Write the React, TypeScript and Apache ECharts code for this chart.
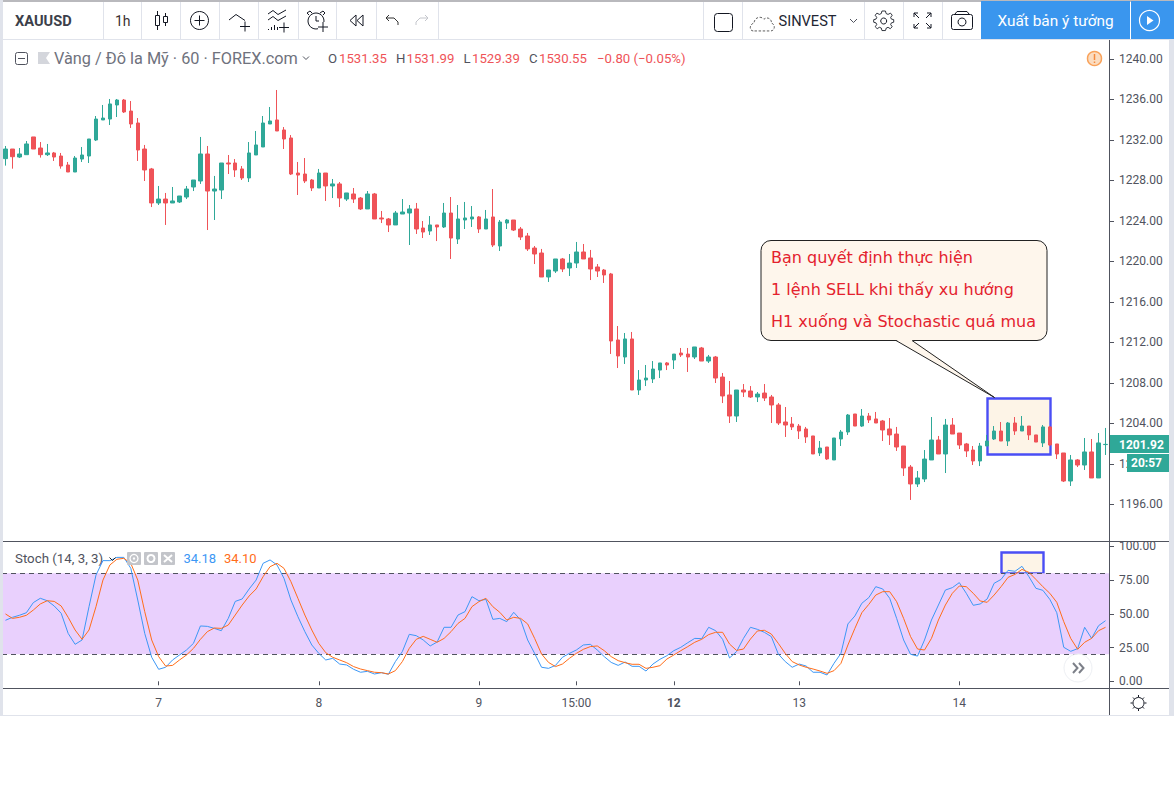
import React, { useEffect, useRef } from "react";
import * as echarts from "echarts";

const opens = [
  1230.14,1231.09,1230.30,1230.53,1232.28,1231.19,1230.53,1230.70,1230.40,1229.51,
  1228.82,1230.10,1230.40,1231.98,1233.96,1234.05,1235.44,1235.93,1234.84,1233.66,
  1231.09,1229.12,1225.76,1226.15,1225.76,1225.86,1226.35,1227.34,1227.93,1230.60,
  1226.94,1227.04,1229.71,1229.71,1229.12,1228.23,1230.50,1231.29,1233.56,1233.96,
  1232.97,1232.18,1228.72,1228.62,1228.03,1227.24,1228.72,1227.44,1227.64,1226.15,
  1226.65,1226.25,1225.17,1226.65,1224.28,1224.18,1223.59,1224.67,1224.77,1225.17,
  1223.29,1222.99,1223.59,1223.39,1224.77,1222.20,1224.08,1224.18,1224.38,1223.19,
  1224.38,1221.51,1223.78,1224.08,1223.19,1222.50,1221.31,1220.82,1218.45,1219.04,
  1220.23,1219.34,1219.83,1220.92,1220.33,1219.44,1219.14,1218.75,1212.23,1210.55,
  1212.33,1207.29,1208.28,1208.38,1209.26,1209.96,1210.25,1210.94,1210.84,1210.55,
  1211.44,1210.15,1210.55,1208.57,1206.80,1204.72,1207.29,1207.19,1206.60,1206.99,
  1206.60,1205.81,1204.13,1203.93,1203.73,1203.44,1202.75,1201.07,1201.66,1200.38,
  1202.45,1203.14,1204.92,1203.73,1204.72,1204.43,1204.23,1203.44,1202.94,1201.76,
  1199.68,1198.01,1198.50,1200.38,1202.35,1200.97,1203.83,1203.04,1201.96,1201.36,
  1200.28,1201.76,1202.45,1203.24,1202.25,1204.03,1203.24,1203.73,1202.85,1202.06,
  1203.64,1201.96,1201.07,1198.30,1200.38,1199.88,1201.17,1198.60,1201.90,
];
const closes = [
  1231.09,1230.33,1230.60,1231.59,1231.09,1230.53,1230.70,1230.30,1229.41,1228.82,
  1230.20,1230.50,1232.08,1234.05,1234.15,1235.54,1235.93,1234.75,1233.56,1230.99,
  1229.02,1225.76,1226.15,1225.76,1225.96,1226.45,1227.14,1228.03,1230.60,1226.94,
  1227.14,1229.71,1229.61,1229.02,1228.23,1230.70,1231.49,1233.66,1233.86,1232.87,
  1232.08,1228.62,1228.52,1227.93,1227.24,1228.72,1227.44,1227.64,1226.25,1226.75,
  1226.15,1225.17,1226.65,1224.18,1224.18,1223.59,1224.77,1224.87,1225.17,1223.19,
  1222.89,1223.59,1223.39,1224.77,1222.30,1224.18,1224.28,1224.38,1223.19,1224.18,
  1221.61,1223.88,1224.08,1223.09,1222.40,1221.22,1220.72,1218.45,1219.14,1220.23,
  1219.24,1219.83,1220.92,1220.23,1219.24,1219.04,1218.65,1212.13,1210.65,1212.33,
  1207.29,1208.28,1208.47,1209.36,1209.96,1209.76,1210.84,1210.75,1210.55,1211.54,
  1210.15,1210.55,1208.47,1206.70,1204.72,1207.29,1207.09,1206.60,1206.89,1206.50,
  1205.81,1204.03,1203.83,1203.64,1203.24,1202.65,1200.97,1201.56,1200.48,1202.55,
  1203.14,1204.82,1203.73,1204.72,1204.33,1204.03,1203.34,1202.85,1201.66,1199.59,
  1198.01,1198.60,1200.47,1202.35,1200.97,1203.83,1202.94,1201.86,1201.27,1200.28,
  1201.76,1202.25,1203.24,1202.25,1204.03,1203.24,1203.73,1202.85,1202.15,1203.64,
  1201.86,1200.97,1198.30,1200.38,1199.88,1201.17,1198.60,1202.06,1201.92,
];
const lows = [
  1229.45,1229.15,1230.20,1230.53,1231.09,1230.24,1230.40,1229.91,1229.15,1228.82,
  1228.82,1229.81,1229.71,1231.88,1233.96,1233.46,1234.25,1234.65,1233.17,1229.91,
  1227.93,1225.36,1225.56,1223.59,1225.76,1225.76,1226.15,1226.94,1227.64,1223.09,
  1224.08,1226.15,1228.62,1228.33,1228.03,1227.83,1230.50,1231.29,1233.56,1232.87,
  1231.09,1228.52,1226.55,1227.73,1226.94,1227.24,1225.96,1226.25,1225.36,1225.96,
  1225.76,1225.07,1225.17,1224.18,1223.78,1222.89,1223.59,1224.67,1221.61,1222.70,
  1222.30,1222.60,1222.00,1223.29,1220.23,1221.71,1223.19,1223.39,1222.80,1223.19,
  1221.41,1221.02,1223.19,1222.99,1222.10,1221.02,1219.73,1218.45,1217.96,1218.85,
  1218.94,1218.55,1219.34,1220.23,1218.15,1218.45,1217.86,1210.85,1209.46,1209.86,
  1207.29,1206.80,1207.68,1207.98,1208.47,1209.26,1209.36,1210.55,1209.07,1210.35,
  1210.15,1209.96,1207.98,1206.00,1204.03,1204.13,1206.60,1206.50,1206.10,1206.20,
  1204.03,1203.83,1202.65,1203.34,1202.45,1202.06,1200.97,1200.77,1200.38,1200.38,
  1201.76,1202.85,1203.73,1203.64,1204.03,1204.03,1202.25,1201.86,1201.27,1198.80,
  1196.43,1197.71,1198.20,1200.38,1200.97,1199.09,1202.94,1201.46,1200.67,1199.88,
  1199.78,1201.76,1202.35,1202.25,1201.76,1202.85,1203.24,1202.35,1202.15,1201.66,
  1201.76,1200.47,1198.20,1197.81,1199.68,1199.39,1198.60,1198.60,1200.87,
];
const highs = [
  1231.39,1231.09,1231.19,1231.88,1232.28,1231.78,1231.59,1230.80,1230.70,1229.81,
  1230.40,1231.29,1232.08,1234.35,1235.44,1236.03,1236.03,1236.03,1235.83,1234.15,
  1231.49,1229.22,1227.44,1226.75,1227.34,1226.45,1227.44,1228.03,1232.28,1231.39,
  1228.43,1229.71,1230.50,1230.10,1229.41,1231.78,1232.87,1234.35,1235.24,1236.92,
  1233.26,1232.47,1229.81,1230.20,1228.13,1229.12,1228.72,1228.13,1227.83,1226.75,
  1227.24,1226.35,1226.94,1226.75,1224.97,1224.28,1224.97,1226.15,1225.56,1225.76,
  1223.98,1224.47,1223.59,1225.76,1226.35,1225.56,1225.86,1225.46,1224.47,1225.07,
  1227.14,1224.08,1224.18,1224.08,1223.39,1222.80,1221.51,1221.22,1219.14,1220.23,
  1220.33,1220.72,1221.91,1221.71,1221.12,1219.73,1219.24,1218.85,1213.61,1212.92,
  1213.02,1209.26,1209.76,1210.15,1209.96,1210.05,1210.84,1211.44,1211.44,1211.54,
  1211.54,1210.75,1210.65,1208.97,1208.18,1207.29,1207.88,1207.68,1207.09,1207.88,
  1206.80,1206.00,1205.61,1204.62,1203.93,1203.64,1202.75,1202.25,1201.66,1202.55,
  1203.34,1204.92,1204.92,1205.41,1205.02,1205.12,1204.33,1204.52,1203.64,1201.76,
  1199.88,1199.29,1201.36,1204.62,1202.75,1204.43,1204.52,1203.04,1202.06,1201.76,
  1202.06,1202.85,1203.73,1204.13,1204.13,1204.62,1204.72,1203.73,1202.85,1203.83,
  1203.73,1201.96,1201.07,1200.87,1200.47,1202.55,1202.45,1203.04,1203.54,
];
const stochK = [
  45.2,47.4,48.9,50.8,58.3,61.5,59.7,55.8,50.4,35.5,
  27.4,30.6,55.3,78.7,89.4,89.4,91.8,91.8,83.7,60.2,
  35.5,17.8,8.9,10.4,15.8,19.5,23.2,28.1,41,40.7,
  39.2,37.5,46.6,59.2,61,68.4,75,87.4,89.9,86.2,
  76.3,60.2,47.9,36.8,26.9,20.7,15.8,17,12.8,12.1,
  8.9,6.7,7.4,5.4,6.4,5.2,14.6,
  22,34.8,33.8,30.6,26.2,29.1,40,40,49.1,51.6,
  62.7,59.7,60.7,45.9,46.6,44.2,51.1,45.4,30.6,20.7,
  10.4,9.6,11.8,17.8,20.7,23.2,26.9,27.4,23.2,18.3,
  14,11.8,14.3,11.1,11.1,7.6,12.8,16.3,19,22.7,
  25.2,28.6,31.8,31.6,40,37.5,31.1,17.3,22,31.8,
  40,38.5,36.3,33.1,20.2,14.6,10.4,
  12.8,11.3,6.7,6.7,4.7,13.3,20.7,42.5,48.4,57.8,
  62,70.1,68.4,61.5,46.6,30.6,20,18.7,30.6,45.4,
  56.5,67.6,69.4,73.1,65.2,56.3,57.3,61,72.6,75.5,
  82.2,81.5,85.2,77.5,68.9,67.4,60.7,50.8,25.2,22.2,
  24.2,40,31.8,41.2,44.9,
];
const stochD = [
  49.9,46.6,47.4,48.9,52.8,57.3,59.7,59.2,55.8,47.4,
  38,31.1,38,55.3,75,86.2,90.4,91.1,87.4,75,
  51.6,30.6,18.3,11.3,11.8,15.8,19.5,24.4,31.1,36.8,
  39.5,39.2,41.7,49.1,56.5,63.2,68.4,77.5,84.9,87.4,
  83.7,73.8,61.5,49.1,38,28.1,21.2,17.8,15.8,13.8,
  10.9,9.1,7.9,6.7,6.4,5.4,7.9,
  14.6,24.4,31.1,33.3,31.1,28.9,31.8,36.8,42.9,46.6,
  55.3,59,61.5,55.3,51.1,45.4,47.4,46.6,42.5,31.8,
  20.2,14,10.9,12.8,17,20.7,23.7,25.7,26.2,22.7,
  18.3,15.3,13.8,12.6,12.6,9.6,10.4,11.6,16.5,19.5,
  22.7,25.7,28.9,31.1,34.6,36.3,36.3,27.6,22.9,23.9,
  31.3,37.3,37.8,35,28.1,20.7,14.6,
  12.1,10.4,9.1,7.6,5.9,7.9,13.3,26.9,39.2,50.8,
  57,63.9,66.4,66.4,59,46.6,33.1,23.9,23.2,31.8,
  45.4,56.5,65.2,70.6,70.1,65.2,59.5,58.5,63.9,70.1,
  77,79.2,82.9,80.7,75.5,70.1,65.2,58.5,44.2,31.8,
  23.7,28.9,31.8,37.5,40,
];
const priceTicks = [1196, 1200, 1204, 1208, 1212, 1216, 1220, 1224, 1228, 1232, 1236, 1240];
const stochTicks = [0, 25, 50, 75, 100];
const timeTickIndex = [22, 45, 68, 82, 96, 114, 137];
const timeTickLabel = ["7", "8", "9", "15:00", "12", "13", "14"];
const boldTimeLabel = "12";
const categories = opens.map((_, i) => String(i));
const calloutLines = ["Bạn quyết định thực hiện", "1 lệnh SELL khi thấy xu hướng", "H1 xuống và Stochastic quá mua"];

const UP = "#2fa898";
const DOWN = "#ef5358";
const AXIS = "#50535e";
const EDGE = "#e0e3eb";
const ICON = "#131722";
const CREAM = "#fdf4e7";
const BOXLINE = "#4a4ef5";
const UI = "Roboto, sans-serif";

echarts.graphic.registerShape(
  "cloudIcon",
  echarts.graphic.extendPath(
    "M4 23 C-1 23 -1 14 5 13 C5 6 13 3 17 8 C21 4 27 8 26 13 C31 14 31 23 25 23 Z",
    {}
  )
);
echarts.graphic.registerShape(
  "gearIcon",
  echarts.graphic.extendPath(
    "M8 0 H12 L12.8 3 L15 4 L17.8 2.5 L19.8 5 L18 7.5 L18.8 9.5 L21.5 10.2 V13.2 L18.8 14 L18 16 L19.8 18.5 L17.5 20.8 L15 19.2 L13 20 L12 23 H8 L7.2 20 L5 19.2 L2.5 20.8 L0.2 18.5 L2 16 L1.2 14 L-1.5 13.2 V10.2 L1.2 9.5 L2 7.5 L0.2 5 L2.2 2.5 L5 4 L7.2 3 Z",
    {}
  )
);

const T = (text: string, x: number, y: number, font: string, fill: string, align = "left") => ({
  type: "text", z: 60, silent: true,
  style: { text, x, y, font, fill, align, verticalAlign: "middle", textAlign: align, textVerticalAlign: "middle" },
});
const Ln = (x1: number, y1: number, x2: number, y2: number, stroke = ICON, lineWidth = 1, z = 60) => ({
  type: "line", z, silent: true, shape: { x1, y1, x2, y2 }, style: { stroke, lineWidth, fill: "none" },
});
const Rc = (x: number, y: number, width: number, height: number, style: any, r = 0, z = 60) => ({
  type: "rect", z, silent: true, shape: { x, y, width, height, r }, style,
});
const Cr = (cx: number, cy: number, r: number, style: any, z = 60) => ({
  type: "circle", z, silent: true, shape: { cx, cy, r }, style,
});
const Pl = (points: number[][], stroke = ICON, lineWidth = 1, z = 60) => ({
  type: "polyline", z, silent: true, shape: { points }, style: { stroke, lineWidth, fill: "none" },
});
const Pg = (points: number[][], style: any, z = 60) => ({
  type: "polygon", z, silent: true, shape: { points }, style,
});
const stroke = (c = ICON, w = 1) => ({ stroke: c, lineWidth: w, fill: "none" });
const Plus = (cx: number, cy: number, s = 5, c = ICON) => [Ln(cx - s, cy, cx + s, cy, c), Ln(cx, cy - s, cx, cy + s, c)];

const buildGraphics = () => {
  const out: any[] = [];
  // annotation boxes beneath the marks
  out.push(Rc(987.5, 398.5, 63, 56, { fill: CREAM, stroke: BOXLINE, lineWidth: 2.4 }, 0, 1));
  out.push(Rc(1001.5, 552.5, 42, 21, { fill: CREAM, stroke: BOXLINE, lineWidth: 2.4 }, 0, 1));
  // frame
  out.push(Rc(0, 0, 1174, 39, { fill: "#ffffff" }, 0, 50));
  out.push(Rc(0, 0, 1174, 2, { fill: "#b9b9bd" }, 0, 51));
  out.push(Rc(0, 39, 1174, 1, { fill: EDGE }, 0, 51));
  out.push(Rc(0, 0, 3, 716, { fill: EDGE }, 0, 51));
  out.push(Rc(1169, 40, 5, 676, { fill: EDGE }, 0, 51));
  out.push(Rc(3, 715, 1166, 1, { fill: EDGE }, 0, 51));
  out.push(Ln(3, 541.5, 1169, 541.5, AXIS));
  out.push(Ln(3, 688.5, 1169, 688.5, AXIS));
  out.push(Ln(1109.5, 688, 1109.5, 715, AXIS));
  // toolbar separators
  [103.5, 141.5, 180.5, 219.5, 258.5, 298.5, 336.5, 376.5, 438.5, 703.5, 742.5, 864.5, 903.5, 942.5].forEach((x) =>
    out.push(Ln(x, 2, x, 39, EDGE))
  );
  // toolbar left
  out.push(T("XAUUSD", 15, 20.5, `bold 14.6px ${UI}`, "#3c3f4a"));
  out.push(T("1h", 115, 20.5, `14px ${UI}`, "#3c3030"));
  out.push(Ln(157.5, 11, 157.5, 30), Rc(155.5, 15.5, 4, 10, { fill: "#fff", stroke: ICON, lineWidth: 1 }));
  out.push(Ln(165.5, 13, 165.5, 26), Rc(163.5, 16.5, 4, 6, { fill: "#fff", stroke: ICON, lineWidth: 1 }));
  out.push(Cr(199.5, 20.5, 9, stroke()), ...Plus(199.5, 20.5, 5));
  out.push(Pl([[229, 20], [236, 14.5], [245, 20.5]]), ...Plus(245, 26.5, 5));
  out.push(Pl([[268, 14], [273, 10.5], [278, 14.5], [286, 10]]), Pl([[268, 20], [273, 16.5], [278, 20.5], [286, 16]]));
  out.push(Ln(268.5, 29, 268.5, 30), Ln(271.5, 27, 271.5, 30), Ln(274.5, 25, 274.5, 30), Ln(277.5, 27, 277.5, 30), ...Plus(284, 27.5, 5));
  out.push(Cr(316, 21, 8, stroke()), Pl([[309, 15], [307, 13], [310, 11], [312, 13]]), Pl([[320, 13], [323, 11], [325, 13], [323, 15]]));
  out.push(Ln(316, 16, 316, 21), Ln(316, 21, 319, 21), Rc(318, 22, 10, 10, { fill: "#fff" }, 0, 60), ...Plus(323, 27, 5));
  out.push(Pg([[350, 20.5], [356, 15], [356, 26]], stroke()), Pg([[357, 20.5], [363, 15], [363, 26]], stroke()));
  out.push(Pl([[389, 15], [386, 18], [389, 21]], "#333"), Pl([[386, 18], [394, 18], [398, 22], [398, 25]], "#333"));
  out.push(Pl([[425, 15], [428, 18], [425, 21]], "#c4c6cc"), Pl([[428, 18], [420, 18], [416, 22], [416, 25]], "#c4c6cc"));
  // legend
  out.push(Rc(15.5, 52.5, 12, 12, stroke("#50535e"), 2), Ln(18, 58.5, 25, 58.5, "#50535e"));
  out.push(Pg([[38, 52], [50, 52], [46, 58], [50, 64], [38, 64]], { fill: "#d4d6dc" }));
  out.push(T("Vàng / Đô la Mỹ · 60 · FOREX.com", 54, 58, `16.3px ${UI}`, "#6f727d"));
  out.push(Pl([[303, 56.5], [306, 59.5], [309, 56.5]], "#50535e"));
  [["O", 328, "1531.35", 339], ["H", 396, "1531.99", 406.5], ["L", 463.5, "1529.39", 472], ["C", 529, "1530.55", 539]].forEach((r: any) => {
    out.push(T(r[0], r[1], 58.5, `13.2px ${UI}`, "#50535e"));
    out.push(T(r[2], r[3], 58.5, `13.2px ${UI}`, DOWN));
  });
  out.push(T("−0.80 (−0.05%)", 597, 58.5, `13.2px ${UI}`, DOWN));
  out.push(Cr(1094.5, 58.5, 7, { fill: "#fbdcc0", stroke: "#f9a25a", lineWidth: 1.5 }), Ln(1094.5, 54, 1094.5, 60, "#f58a3c", 1.5), Ln(1094.5, 61.5, 1094.5, 63, "#f58a3c", 1.5));
  // toolbar right
  out.push(Rc(714.5, 13.5, 18, 18, stroke(), 3));
  out.push({ type: "cloudIcon", z: 60, silent: true, x: 750, y: 13, scaleX: 0.82, scaleY: 0.78, style: { stroke: "#333", lineWidth: 1, fill: "none", lineDash: [3, 2] } });
  out.push(T("SINVEST", 778.5, 20.5, `14.6px ${UI}`, "#222633"));
  out.push(Pl([[850, 19], [853.5, 22.5], [857, 19]], "#50535e"));
  out.push({ type: "gearIcon", z: 60, silent: true, x: 875, y: 11, scaleX: 0.87, scaleY: 0.85, style: { stroke: ICON, lineWidth: 1, fill: "none" } });
  out.push(Cr(883.7, 21, 3, stroke()));
  [[914, 13, 1, 1], [931, 13, -1, 1], [914, 28, 1, -1], [931, 28, -1, -1]].forEach(([x, y, a, b]) => {
    out.push(Pl([[x, y + b * 4], [x, y], [x + a * 4, y]]), Ln(x, y, x + a * 5, y + b * 5));
  });
  out.push(Rc(951.5, 14.5, 21, 15, stroke(), 2), Cr(962, 22, 4, stroke()));
  out.push(Pl([[955, 14], [957, 11.5], [967, 11.5], [969, 14]]));
  out.push(Rc(981, 1, 149, 38, { fill: "#3a96ee" }, 0, 52));
  out.push(Rc(1131, 1, 43, 38, { fill: "#3a96ee" }, 0, 52));
  out.push(T("Xuất bản ý tưởng", 997.5, 20.5, `15.4px ${UI}`, "#ffffff"));
  out.push(Cr(1149.5, 20.5, 10, stroke("#fff", 1.2)), Pg([[1147, 16], [1153.5, 20.5], [1147, 25]], { fill: "#fff" }));
  // callout
  out.push(Rc(761, 240.5, 286, 100, { fill: "#fef6ec", stroke: "#222", lineWidth: 1 }, 10, 60));
  out.push(Pg([[896, 340], [994.5, 397.5], [912, 340]], { fill: "#fef6ec" }, 61));
  out.push(Ln(896, 340.5, 994.5, 397.5, "#222", 1, 62), Ln(912, 340.5, 994.5, 397.5, "#222", 1, 62));
  calloutLines.forEach((line, i) => out.push({ ...T(line, 771, 257.5 + i * 31.8, `16px "DejaVu Sans", sans-serif`, "#e4222e"), z: 63 }));
  // price labels
  out.push(Rc(1110, 435, 59, 18, { fill: UP }, 0, 55));
  out.push(Rc(1127, 454, 42, 18, { fill: UP }, 0, 55));
  out.push(T("1201.92", 1119, 444.5, `bold 12px ${UI}`, "#fff"));
  out.push(T("20:57", 1131, 463, `bold 12px ${UI}`, "#fff"));
  // stoch legend
  out.push(T("Stoch (14, 3, 3)", 15, 558.5, `13.3px ${UI}`, "#50535e"));
  out.push(Pl([[109.5, 557.5], [112.5, 560.5], [115.5, 557.5]], "#222"));
  [127, 144, 161].forEach((x) => out.push(Rc(x, 552, 14, 13, { fill: "#c3c5ca" }, 1)));
  out.push(Cr(134, 558.5, 4, stroke("#fff", 1.3)), Cr(134, 558.5, 1.2, { fill: "#fff" }));
  out.push(Cr(151, 558.5, 3.5, stroke("#fff", 2)));
  out.push(Ln(164, 555, 172, 562, "#fff", 2), Ln(172, 555, 164, 562, "#fff", 2));
  out.push(T("34.18", 183.5, 558.5, `13px ${UI}`, "#3c97f5"));
  out.push(T("34.10", 224, 558.5, `13px ${UI}`, "#ff6d1a"));
  // scroll button and settings
  out.push(Cr(1078, 668, 14, { fill: "#fff", stroke: "#eef0f4", lineWidth: 1 }));
  out.push(Pl([[1073, 663], [1077.5, 668], [1073, 673]], "#7d8089", 2), Pl([[1079, 663], [1083.5, 668], [1079, 673]], "#7d8089", 2));
  out.push(Cr(1138.5, 703, 5.5, stroke()));
  [[1138.5, 695, 1138.5, 697], [1138.5, 709, 1138.5, 711], [1130.5, 703, 1132.5, 703], [1144.5, 703, 1146.5, 703], [1133, 697.5, 1134.5, 699], [1142.5, 707, 1144, 708.5], [1144, 697.5, 1142.5, 699], [1134.5, 707, 1133, 708.5]].forEach(([a, b, c, d]) =>
    out.push(Ln(a, b, c, d))
  );
  return out;
};

export default function App() {
  const ref = useRef<HTMLDivElement>(null);
  useEffect(() => {
    if (!ref.current) return;
    const chart = echarts.init(ref.current, undefined, { renderer: "svg" });
    const axisLine = { show: true, lineStyle: { color: AXIS, width: 1 } };
    const labelStyle = { color: AXIS, fontFamily: "Roboto, sans-serif", fontSize: 12 };
    const showTick = (idx: number) => timeTickIndex.includes(idx);
    chart.setOption({
      animation: false,
      backgroundColor: "#ffffff",
      grid: [
        { left: 2, top: 40, width: 1107, height: 501 },
        { left: 2, top: 542, width: 1107, height: 146 },
      ],
      xAxis: [
        { type: "category", gridIndex: 0, data: categories, show: false },
        {
          type: "category", gridIndex: 1, data: categories,
          axisLine: { show: false },
          axisTick: { show: true, interval: showTick, alignWithLabel: true, length: 4, lineStyle: { color: AXIS } },
          axisLabel: {
            interval: showTick, margin: 9, ...labelStyle,
            formatter: (_: string, idx: number) => {
              const label = timeTickLabel[timeTickIndex.indexOf(idx)] ?? "";
              return label === boldTimeLabel ? `{b|${label}}` : label;
            },
            rich: { b: { fontWeight: "bold", color: AXIS, fontFamily: "Roboto, sans-serif", fontSize: 12 } },
          },
        },
      ],
      yAxis: [
        {
          type: "value", gridIndex: 0, position: "right", min: 1192.376, max: 1241.857, scale: true,
          splitLine: { show: false }, axisLine,
          axisTick: { show: true, length: 5, customValues: priceTicks, lineStyle: { color: AXIS } },
          axisLabel: { customValues: priceTicks, margin: 10, ...labelStyle, formatter: (v: number) => v.toFixed(2) },
        },
        {
          type: "value", gridIndex: 1, position: "right", min: -4.96, max: 103.2,
          splitLine: { show: false }, axisLine,
          axisTick: { show: true, length: 5, customValues: stochTicks, lineStyle: { color: AXIS } },
          axisLabel: { customValues: stochTicks, margin: 10, ...labelStyle, formatter: (v: number) => v.toFixed(2) },
        },
      ],
      series: [
        {
          type: "candlestick", xAxisIndex: 0, yAxisIndex: 0, barWidth: 4,
          itemStyle: { color: UP, color0: DOWN, borderColor: UP, borderColor0: DOWN, borderWidth: 1 },
          data: opens.map((o, i) => [o, closes[i], lows[i], highs[i]]),
        },
        {
          type: "line", name: "%K", xAxisIndex: 1, yAxisIndex: 1, data: stochK, showSymbol: false, symbol: "none",
          lineStyle: { color: "#3c97f5", width: 1 }, z: 5,
          markArea: { silent: true, itemStyle: { color: "#e9d0fd" }, data: [[{ yAxis: 20 }, { yAxis: 80 }]] },
          markLine: {
            silent: true, symbol: "none", label: { show: false },
            lineStyle: { color: "#50535e", type: [5, 4], width: 1 },
            data: [{ yAxis: 20 }, { yAxis: 80 }],
          },
        },
        {
          type: "line", name: "%D", xAxisIndex: 1, yAxisIndex: 1, data: stochD, showSymbol: false, symbol: "none",
          lineStyle: { color: "#ff6d1a", width: 1 }, z: 6,
        },
      ],
      graphic: { elements: buildGraphics() },
    });
    return () => chart.dispose();
  }, []);
  return <div ref={ref} style={{ position: "absolute", left: 0, top: 0, width: 1174, height: 786 }} />;
}
